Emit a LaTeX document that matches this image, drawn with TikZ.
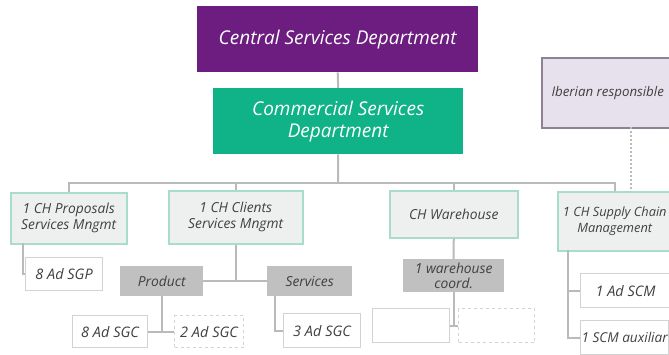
\documentclass[tikz,border=0pt]{standalone}
\usepackage{fontspec}
\setmainfont{Open Sans}
\usetikzlibrary{calc}
\definecolor{cpurple}{HTML}{6C1D7F}
\definecolor{cgreen}{HTML}{10B287}
\definecolor{ibfill}{HTML}{E6E1EC}
\definecolor{ibdraw}{HTML}{8C8294}
\definecolor{lvfill}{HTML}{EEF0EF}
\definecolor{lvdraw}{HTML}{A9DDCB}
\definecolor{gbox}{HTML}{C0C0C0}
\definecolor{wdraw}{HTML}{D2D2D2}
\definecolor{conn}{HTML}{BABABA}
\definecolor{txt}{HTML}{404040}
\tikzset{
  box/.style={anchor=north west, inner sep=0pt, align=center, font=\itshape},
  topbox/.style={box, text=white, font=\itshape\fontsize{19}{22}\selectfont},
  ibbox/.style={box, fill=ibfill, draw=ibdraw, line width=1.5pt, text=txt, font=\itshape\fontsize{13.3}{15}\selectfont},
  lvbox/.style={box, fill=lvfill, draw=lvdraw, line width=1.5pt, text=txt, font=\itshape\fontsize{13.8}{16}\selectfont},
  graybox/.style={box, fill=gbox, text=txt, font=\itshape\fontsize{13.8}{15.5}\selectfont},
  whitebox/.style={box, fill=white, draw=wdraw, line width=1.2pt, text=txt, font=\itshape\fontsize{14.5}{16}\selectfont},
  dashbox/.style={whitebox, dashed},
  conline/.style={draw=conn, line width=2pt},
  dotline/.style={draw=conn, line width=2pt, dotted}
}
\begin{document}
\begin{tikzpicture}[x=1pt,y=-1pt]
\useasboundingbox (0,0) rectangle (669,354);
\clip (0,0) rectangle (669,354);
\fill[white] (0,0) rectangle (669,354);

% nodes
\node[topbox, fill=cpurple, minimum width=281pt, minimum height=66pt] (central) at (197,6) {Central Services Department};
\node[topbox, fill=cgreen, minimum width=250pt, minimum height=66pt] (commercial) at (213,88) {Commercial Services\\Department};
\node[ibbox, minimum width=132pt, minimum height=70pt] (iberian) at (541,57) {Iberian responsible};

\node[lvbox, minimum width=116pt, minimum height=51pt] (prop) at (10,192) {1 CH Proposals\\Services Mngmt};
\node[lvbox, minimum width=134pt, minimum height=53pt] (clients) at (168,190) {1 CH Clients\\Services Mngmt};
\node[lvbox, minimum width=128pt, minimum height=47pt] (wh) at (389,190) {CH Warehouse};
\node[lvbox, font=\itshape\fontsize{12.8}{16}\selectfont, minimum width=114pt, minimum height=59pt] (supply) at (557,191) {1 CH Supply Chain\\Management};

\node[whitebox, minimum width=77pt, minimum height=33pt] (sgp) at (25,257) {8 Ad SGP};
\node[graybox, minimum width=83pt, minimum height=30pt] (product) at (120,266) {Product};
\node[graybox, minimum width=85pt, minimum height=30pt] (services) at (267,266) {Services};
\node[whitebox, minimum width=75pt, minimum height=32pt] (sgc8) at (72,315) {8 Ad SGC};
\node[dashbox, minimum width=69pt, minimum height=32pt] (sgc2) at (174,315) {2 Ad SGC};
\node[whitebox, minimum width=77pt, minimum height=34pt] (sgc3) at (283,313) {3 Ad SGC};

\node[graybox, minimum width=101pt, minimum height=33pt] (whcoord) at (403,259) {1 warehouse\\coord.};
\node[whitebox, minimum width=77pt, minimum height=34pt] (empty1) at (372,308) {};
\node[dashbox, minimum width=76pt, minimum height=34pt] (empty2) at (458,308) {};

\node[whitebox, minimum width=90pt, minimum height=34pt] (adscm) at (580,273) {1 Ad SCM};
\node[whitebox, font=\itshape\fontsize{13.6}{16}\selectfont, minimum width=88pt, minimum height=34pt] (aux) at (580,320) {1 SCM auxiliar};

% connectors
\coordinate (bus) at (338,183);
\coordinate (ibx) at (631,127);
\coordinate (supx) at (568,250);
\coordinate (propx) at (23,243);
\coordinate (servx) at (275,296);

\draw[conline] (central.south) -- (commercial.north);
\draw[conline] (commercial.south) -- (bus);
\draw[conline] (prop.north) |- (bus);
\draw[conline] (clients.north) |- (bus);
\draw[conline] (wh.north) |- (bus);
\draw[conline] (supply.north) |- (bus);
\draw[dotline] (ibx) -- (ibx |- supply.north);

\draw[conline] (propx) |- (sgp.west);
\draw[conline] (clients.south) -- (clients.south |- product.east);
\draw[conline] (product.east) -- (services.west);
\draw[conline] (product.south) -- (product.south |- sgc8.east);
\draw[conline] (sgc8.east) -- (sgc2.west);
\draw[conline] (servx) |- (sgc3.west);
\draw[conline] (wh.south) -- (whcoord.north);
\draw[conline] (whcoord.south) -- (whcoord.south |- empty1.east);
\draw[conline] (empty1.east) -- (empty2.west);
\draw[conline] (supx) |- (adscm.west);
\draw[conline] (supx) |- (aux.west);
\end{tikzpicture}
\end{document}
